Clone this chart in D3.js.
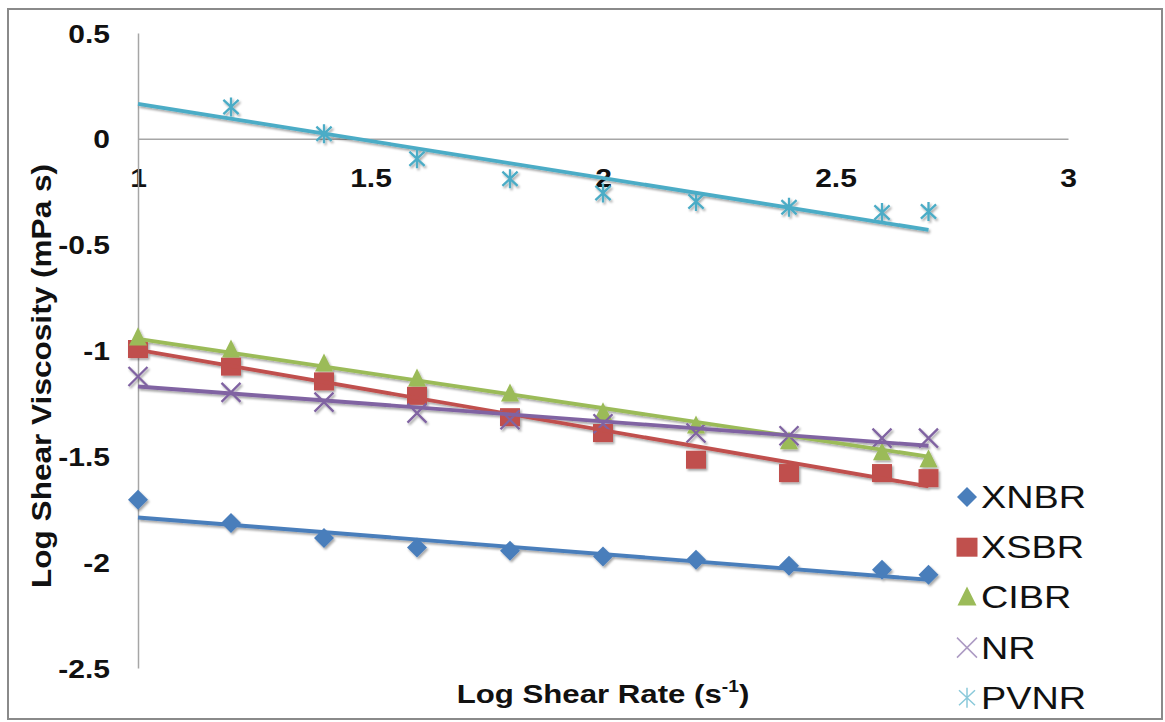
<!DOCTYPE html>
<html><head><meta charset="utf-8">
<script src="https://cdn.jsdelivr.net/npm/d3@7"></script>
<style>body{margin:0;background:#fff} svg{display:block}</style></head>
<body>
<svg id="c" width="1165" height="722"></svg>
<script>
// ---- data ----
const shearRate = [1, 1.2, 1.4, 1.6, 1.8, 2.0, 2.2, 2.4, 2.6, 2.7];
const seriesNames = ["XNBR", "XSBR", "CIBR", "NR", "PVNR"];
const xnbr = [-1.705, -1.815, -1.886, -1.931, -1.946, -1.973, -1.989, -2.017, -2.036, -2.060];
const xsbr = [-0.993, -1.076, -1.146, -1.214, -1.315, -1.390, -1.516, -1.579, -1.579, -1.603];
const cibr = [-0.940, -0.997, -1.063, -1.134, -1.205, -1.294, -1.356, -1.431, -1.483, -1.516];
const nr   = [-1.123, -1.198, -1.244, -1.296, -1.327, -1.346, -1.390, -1.403, -1.414, -1.414];
const pvnr = [null, 0.150, 0.024, -0.094, -0.189, -0.256, -0.296, -0.323, -0.348, -0.343];
const trendX = [1, 2.7];
const xnbrTrend = [-1.789, -2.083];
const xsbrTrend = [-0.997, -1.642];
const cibrTrend = [-0.945, -1.501];
const nrTrend   = [-1.170, -1.450];
const pvnrTrend = [0.165, -0.430];
const xTickValues = [1, 1.5, 2, 2.5, 3];
const yTickValues = [0.5, 0, -0.5, -1, -1.5, -2, -2.5];
const colors = ["#4a7ebb", "#c0504d", "#9bbb59", "#8064a2", "#4bacc6"];
const markers = ["diamond", "square", "triangle", "x", "star"];

const series = [xnbr, xsbr, cibr, nr, pvnr];
const trends = [xnbrTrend, xsbrTrend, cibrTrend, nrTrend, pvnrTrend];

const svg = d3.select("#c");
const SX = 1.2; // horizontal text stretch
const FONT = "Liberation Sans, Arial, sans-serif";
const fmt = d => String(d);

// drop shadow
const defs = svg.append("defs");
const f = defs.append("filter").attr("id", "sh").attr("x", "-20%").attr("y", "-50%").attr("width", "140%").attr("height", "200%");
f.append("feDropShadow").attr("dx", 1.5).attr("dy", 2).attr("stdDeviation", 1.3)
  .attr("flood-color", "#000").attr("flood-opacity", 0.35);

// frame
svg.append("rect").attr("x", 8).attr("y", 9).attr("width", 1154).attr("height", 710)
  .attr("fill", "none").attr("stroke", "#8a8a8a").attr("stroke-width", 2);

const x = d3.scaleLinear().domain([1, 3]).range([138, 1068]);
const y = d3.scaleLinear().domain([-2.5, 0.5]).range([668, 33]);

// axes
const xAxis = d3.axisBottom(x).tickValues(xTickValues).tickSize(0).tickFormat(fmt);
const gx = svg.append("g").attr("transform", `translate(0,${y(0)})`).call(xAxis);
gx.select(".domain").attr("stroke", "#a6a6a6").attr("stroke-width", 1.5);
gx.selectAll(".tick text").each(function() {
  d3.select(this).attr("y", null).attr("dy", null)
   .attr("transform", `translate(0,48) scale(${SX},1)`)
   .attr("font-family", FONT).attr("font-weight", "bold").attr("font-size", 25).attr("fill", "#111")
   .attr("text-anchor", "middle");
});

const yAxis = d3.axisLeft(y).tickValues(yTickValues).tickSize(0).tickFormat(fmt);
const gy = svg.append("g").attr("transform", `translate(${x(1)},0)`).call(yAxis);
gy.select(".domain").attr("stroke", "#a6a6a6").attr("stroke-width", 1.5);
gy.selectAll(".tick text").each(function() {
  d3.select(this).attr("x", null).attr("dy", null)
   .attr("transform", `translate(-28,9) scale(${SX},1)`)
   .attr("font-family", FONT).attr("font-weight", "bold").attr("font-size", 25).attr("fill", "#111")
   .attr("text-anchor", "end");
});

// marker shapes
function markerPath(kind, s) {
  const p = d3.path();
  if (kind === "diamond") {
    p.moveTo(0, -s); p.lineTo(s, 0); p.lineTo(0, s); p.lineTo(-s, 0); p.closePath();
  } else if (kind === "square") {
    p.rect(-s * 1.05, -s * 0.95, s * 2.1, s * 1.9);
  } else if (kind === "triangle") {
    p.moveTo(0, -s * 1.1); p.lineTo(s * 0.95, s * 0.8); p.lineTo(-s * 0.95, s * 0.8); p.closePath();
  } else if (kind === "x") {
    p.moveTo(-s, -s); p.lineTo(s, s); p.moveTo(s, -s); p.lineTo(-s, s);
  } else if (kind === "star") {
    p.moveTo(-s * 0.8, -s * 0.75); p.lineTo(s * 0.8, s * 0.75); p.moveTo(s * 0.8, -s * 0.75); p.lineTo(-s * 0.8, s * 0.75);
    p.moveTo(0, -s); p.lineTo(0, s);
  }
  return p.toString();
}
const filled = k => k === "diamond" || k === "square" || k === "triangle";

const plot = svg.append("g").attr("filter", "url(#sh)");
series.forEach((vals, i) => {
  const pts = shearRate.map((r, j) => ({ r, v: vals[j] })).filter(d => d.v !== null);
  plot.append("g").selectAll("path").data(pts).join("path")
    .attr("transform", d => `translate(${x(d.r)},${y(d.v)})`)
    .attr("d", markerPath(markers[i], markers[i] === "diamond" ? 10 : 9.5))
    .attr("fill", filled(markers[i]) ? colors[i] : "none")
    .attr("stroke", filled(markers[i]) ? "none" : colors[i])
    .attr("stroke-width", 2.3);
});
const line = d3.line().x(d => x(d[0])).y(d => y(d[1]));
trends.forEach((tv, i) => {
  plot.append("path").datum(trendX.map((t, j) => [t, tv[j]]))
    .attr("d", line).attr("fill", "none").attr("stroke", colors[i]).attr("stroke-width", 3.8);
});

// legend
const lg = svg.append("g");
seriesNames.forEach((n, i) => {
  const ly = 497 + i * 50.2;
  const k = markers[i];
  lg.append("path").attr("transform", `translate(967,${ly})`)
    .attr("d", markerPath(k, 10))
    .attr("fill", filled(k) ? colors[i] : "none")
    .attr("stroke", filled(k) ? "none" : d3.interpolateRgb(colors[i], "#fff")(0.35))
    .attr("stroke-width", 1.5);
  lg.append("text").attr("transform", `translate(981,${ly + 11}) scale(1.22,1)`)
    .attr("font-family", FONT).attr("font-size", 31)
    .attr("fill", "#111").text(n);
});

// axis titles
const xt = svg.append("text").attr("transform", `translate(603,703) scale(1.2,1)`)
  .attr("font-family", FONT).attr("font-weight", "bold")
  .attr("font-size", 26).attr("fill", "#111").attr("text-anchor", "middle");
xt.append("tspan").text("Log Shear Rate (s");
xt.append("tspan").attr("font-size", 16).attr("dy", -11).text("-1");
xt.append("tspan").attr("dy", 11).text(")");

svg.append("text").attr("transform", `translate(51,376) rotate(-90) scale(1.17,1)`)
  .attr("font-family", FONT).attr("font-weight", "bold")
  .attr("font-size", 27).attr("fill", "#111").attr("text-anchor", "middle")
  .text("Log Shear Viscosity (mPa s)");
</script>
</body></html>
